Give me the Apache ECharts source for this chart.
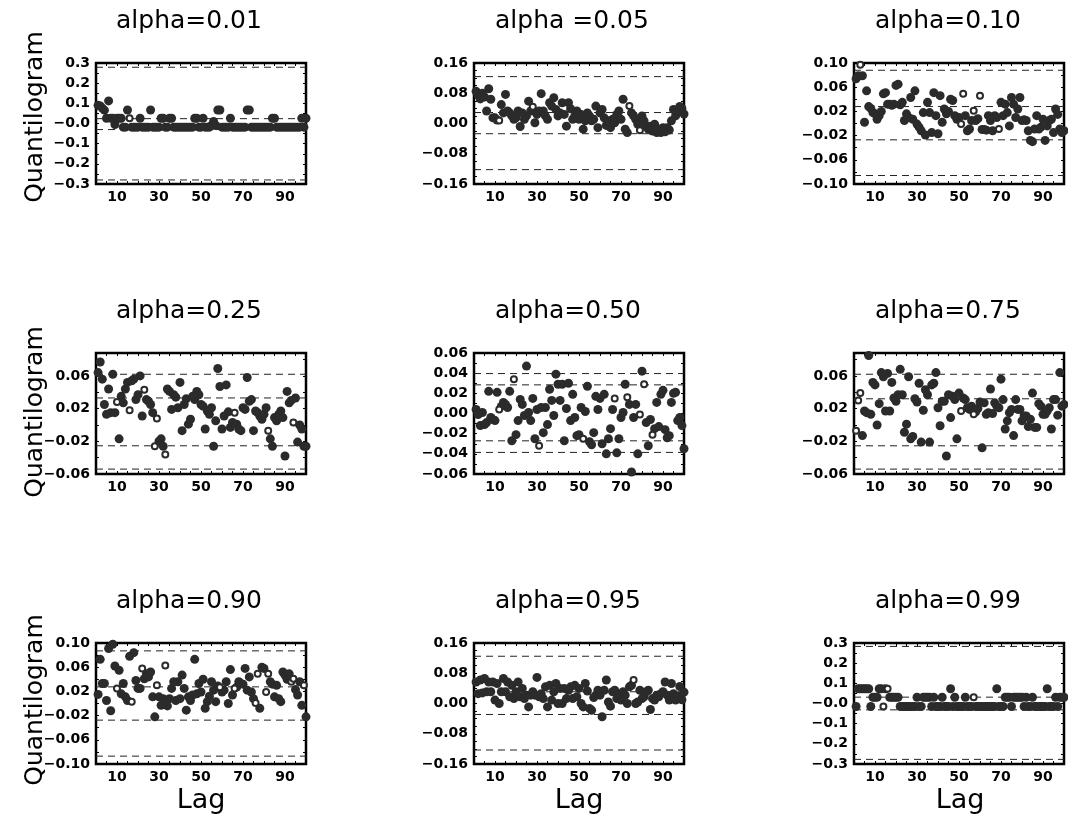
<!DOCTYPE html>
<html><head><meta charset="utf-8">
<script src="https://cdn.jsdelivr.net/npm/echarts@6/dist/echarts.min.js"></script>
<style>html,body{margin:0;padding:0;background:#fff}#c{width:1068px;height:823px}</style>
</head><body><div id="c"></div>
<script>
// ---------- data ----------
const LAG_MIN = 0, LAG_MAX = 100, LAG_TICK = 5;
const X_LABELS = [10, 30, 50, 70, 90];
const TITLES = ['alpha=0.01', 'alpha =0.05', 'alpha=0.10', 'alpha=0.25', 'alpha=0.50', 'alpha=0.75', 'alpha=0.90', 'alpha=0.95', 'alpha=0.99'];

const Q_001 = [0.09,0.087,0.076,0.066,0.026,0.112,0.026,0.026,-0.005,0.026,
 0.026,0.026,-0.018,-0.018,0.067,0.026,-0.018,-0.018,-0.018,-0.018,
 0.026,-0.018,-0.018,-0.018,-0.018,0.067,-0.018,-0.018,-0.018,-0.018,
 0.026,0.026,-0.018,-0.018,0.026,0.026,-0.018,-0.018,-0.018,-0.018,
 -0.018,-0.018,-0.018,-0.018,-0.018,-0.018,0.026,0.026,-0.018,-0.018,
 0.026,-0.018,-0.018,-0.018,-0.01,0.01,-0.01,0.067,0.067,-0.018,
 -0.018,-0.018,-0.018,0.026,-0.018,-0.018,-0.018,-0.018,-0.018,-0.018,
 -0.018,0.067,0.067,-0.018,-0.018,-0.018,-0.018,-0.018,-0.018,-0.018,
 -0.018,-0.018,-0.018,0.026,0.026,-0.018,-0.018,-0.018,-0.018,-0.018,
 -0.018,-0.018,-0.018,-0.018,-0.018,-0.018,-0.018,0.026,-0.018,0.026];
const OPEN_001 = [16];
const BANDS_001 = [0.279, 0.024, -0.03, -0.28];

const Q_005 = [0.085,0.075,0.065,0.08,0.07,0.033,0.092,0.064,0.015,0.015,
 0.009,0.008,0.05,0.028,0.077,0.033,0.028,0.02,0.011,0.015,
 0.033,-0.008,0.028,0.011,0.02,0.059,0.033,0.044,0.002,0.024,
 0.033,0.079,0.033,0.02,0.011,0.055,0.046,0.068,0.037,0.02,
 0.028,0.055,0.024,-0.007,0.055,0.039,0.011,0.02,0.033,0.011,
 0.024,-0.015,0.007,0.028,0.02,0.007,0.011,0.046,-0.011,0.028,
 0.037,0.015,-0.005,0.007,-0.011,0.011,0.002,0.024,0.033,0.011,
 0.064,-0.015,-0.024,0.046,0.028,0.02,0.011,-0.002,-0.018,0.02,
 0.007,-0.007,-0.015,-0.007,-0.02,-0.002,-0.024,-0.015,-0.024,-0.011,
 -0.022,-0.011,-0.017,0.007,0.037,0.02,0.03,0.045,0.04,0.025];
const OPEN_005 = [12, 28, 74, 79];
const BANDS_005 = [0.124, 0.029, -0.027, -0.122];

const Q_010 = [0.074,0.079,0.097,0.079,0.002,0.054,0.028,0.025,0.018,0.016,
 0.007,0.013,0.02,0.049,0.051,0.032,0.032,0.03,0.032,0.063,
 0.065,0.031,0.035,0.005,0.016,0.01,0.043,0.007,0.054,-0.001,
 -0.006,-0.012,0.018,-0.019,0.035,0.018,-0.015,0.051,0.013,-0.017,
 0.046,0.002,0.024,0.016,0.02,0.04,0.038,0.013,0.007,0.01,
 -0.001,0.049,0.013,-0.012,-0.009,0.005,0.021,0.005,0.008,0.046,
 -0.01,-0.01,-0.011,0.013,0.005,-0.012,0.013,0.01,-0.009,0.035,
 0.013,0.032,0.018,-0.004,0.043,0.032,0.01,0.024,0.043,0.005,
 0.006,0.005,-0.012,-0.028,-0.03,-0.009,0.013,-0.009,-0.006,0.007,
 -0.028,-0.004,0.005,0.007,-0.015,0.024,0.015,-0.009,-0.015,-0.012];
const OPEN_010 = [3, 51, 52, 57, 60, 69];
const BANDS_010 = [0.088, 0.028, -0.027, -0.086];

const Q_025 = [0.064,0.077,0.056,0.025,0.013,0.044,0.015,0.062,0.015,0.028,
 -0.017,0.035,0.027,0.044,0.052,0.018,0.054,0.056,0.031,0.037,
 0.06,0.011,0.043,0.031,0.029,0.025,0.015,-0.026,0.008,-0.02,
 -0.017,-0.026,-0.036,0.044,0.041,0.019,0.037,0.034,0.021,0.052,
 -0.007,0.025,0.032,0.001,0.007,0.035,0.031,0.041,0.037,0.025,
 0.023,-0.005,0.017,0.013,0.021,-0.026,0.005,0.069,0.047,-0.005,
 0.011,0.049,0.016,-0.003,0.003,0.015,0.001,-0.005,-0.007,0.021,
 0.019,0.058,0.029,0.031,-0.007,0.017,0.015,0.011,0.007,0.013,
 0.021,-0.007,-0.017,-0.026,0.009,0.005,0.013,0.017,0.009,-0.038,
 0.041,0.027,0.03,0.003,0.033,-0.021,0.0,-0.005,-0.026,-0.026];
const OPEN_025 = [10, 16, 23, 28, 29, 33, 66, 82, 94];
const BANDS_025 = [0.062, 0.033, -0.0255, -0.054];

const Q_050 = [0.004,-0.001,-0.012,0.001,-0.011,-0.009,0.022,-0.004,-0.006,-0.007,
 0.021,0.004,0.007,0.011,0.009,0.006,0.022,-0.027,0.034,-0.021,
 -0.007,0.014,0.009,-0.002,0.047,0.001,-0.007,0.015,-0.025,0.004,
 -0.032,0.006,-0.019,0.006,-0.011,0.024,0.013,-0.002,0.039,0.029,
 0.013,0.029,-0.027,0.005,0.03,-0.007,0.019,-0.004,-0.022,-0.021,
 0.006,-0.025,0.002,0.027,-0.028,-0.031,-0.019,0.017,0.004,0.015,
 -0.03,0.019,-0.04,-0.025,-0.015,0.004,0.015,-0.039,-0.025,-0.004,
 0.001,0.029,0.016,0.009,-0.058,-0.004,0.009,-0.04,-0.001,0.042,
 0.029,-0.009,-0.032,-0.006,-0.021,-0.015,0.011,-0.013,0.019,0.023,
 -0.016,-0.024,-0.022,0.011,0.02,0.021,-0.007,-0.004,-0.012,-0.035];
const OPEN_050 = [12, 19, 31, 52, 67, 73, 79, 81, 85];
const BANDS_050 = [0.0396, 0.0284, -0.0271, -0.0386];

const Q_075 = [-0.007,0.03,0.039,-0.013,0.017,0.015,0.085,0.013,0.052,0.049,
 0.0,0.026,0.064,0.059,0.017,0.063,0.017,0.052,0.033,0.029,
 0.037,0.068,0.037,-0.009,0.001,0.059,-0.017,-0.014,0.032,0.028,
 0.051,-0.021,0.018,0.043,0.037,-0.021,0.049,0.051,0.064,0.021,
 -0.001,0.029,0.029,-0.038,0.037,0.009,0.035,0.031,-0.017,0.039,
 0.017,0.033,0.031,0.021,0.019,0.023,0.013,0.016,0.02,0.028,
 -0.028,0.027,0.013,0.015,0.044,0.014,0.027,0.023,0.021,0.056,
 0.031,-0.005,0.005,0.015,0.019,-0.013,0.031,0.019,0.019,0.005,
 0.011,0.011,-0.002,0.007,0.039,-0.003,-0.003,0.026,0.023,0.013,
 0.013,0.017,0.021,-0.005,0.031,0.031,0.012,0.064,0.023,0.025];
const OPEN_075 = [1, 2, 3, 51, 57];
const BANDS_075 = [0.062, 0.032, -0.0255, -0.054];

const Q_090 = [0.015,0.073,0.033,0.033,0.005,0.091,-0.012,0.098,0.062,0.025,
 0.055,0.016,0.033,0.011,0.005,0.078,0.003,0.084,0.038,0.025,
 0.025,0.058,0.041,0.049,0.044,0.052,0.011,-0.022,0.03,0.011,
 -0.003,0.008,0.063,-0.004,0.008,0.025,0.036,0.005,0.036,0.008,
 0.047,0.025,-0.011,0.011,0.005,0.014,0.073,0.016,0.033,0.019,
 0.04,-0.008,0.003,0.012,0.036,0.022,0.003,0.029,0.027,0.019,
 0.022,0.036,0.0,0.056,0.014,0.025,0.027,0.036,0.033,0.032,
 0.058,0.022,0.044,0.019,0.008,0.001,0.049,-0.008,0.06,0.058,
 0.019,0.049,0.036,0.032,0.011,0.03,0.008,0.003,0.052,0.047,
 0.04,0.049,0.036,0.041,0.023,0.014,0.036,-0.003,0.03,-0.022];
const OPEN_090 = [10, 17, 22, 29, 33, 59, 66, 76, 77, 81, 82, 93, 94, 99];
const BANDS_090 = [0.087, 0.0275, -0.0275, -0.087];

const Q_095 = [0.057,0.026,0.062,0.028,0.066,0.031,0.057,0.031,0.057,0.009,
 0.053,0.0,0.031,0.066,0.031,0.057,0.018,0.048,0.013,0.031,
 0.057,0.018,0.04,0.013,0.022,-0.009,0.022,0.031,0.022,0.069,
 0.018,0.026,0.013,0.044,-0.009,0.048,0.009,0.031,0.053,0.0,
 0.04,0.0,0.04,0.013,0.035,0.044,0.013,0.048,0.018,0.04,
 0.0,-0.009,0.053,0.033,-0.013,-0.018,0.016,0.022,0.035,0.022,
 -0.035,0.035,0.062,0.004,-0.007,0.031,0.035,0.013,0.022,0.009,
 0.031,0.022,0.0,0.044,0.048,0.062,0.0,0.004,0.035,0.013,
 0.018,0.031,0.035,-0.016,0.013,0.009,0.022,0.018,0.026,0.031,
 0.057,0.022,0.009,0.053,0.026,0.009,0.02,0.045,0.01,0.03];
const OPEN_095 = [76];
const BANDS_095 = [0.125, 0.031, -0.029, -0.123];

const Q_099 = [-0.015,0.073,0.073,0.073,0.073,0.073,0.073,-0.015,0.031,0.031,
 0.031,0.073,0.073,-0.015,0.073,0.073,0.031,0.031,0.031,0.031,
 0.031,-0.015,-0.015,-0.015,-0.015,-0.015,-0.015,-0.015,-0.015,0.031,
 -0.015,-0.015,0.031,0.031,0.031,0.031,-0.015,0.031,-0.015,-0.015,
 -0.015,0.031,-0.015,-0.015,-0.015,0.073,-0.015,0.031,-0.015,-0.015,
 -0.015,-0.015,0.031,-0.015,-0.015,-0.015,0.031,-0.015,-0.015,-0.015,
 -0.015,-0.015,-0.015,-0.015,-0.015,-0.015,-0.015,0.073,-0.015,-0.015,
 -0.015,0.031,0.031,0.031,-0.015,0.031,0.031,0.031,0.031,0.031,
 -0.015,0.031,-0.015,-0.015,0.031,-0.015,-0.015,-0.015,-0.015,-0.015,
 -0.015,0.073,-0.015,-0.015,-0.015,0.031,-0.015,0.031,0.031,0.031];
const OPEN_099 = [14, 16, 57];
const BANDS_099 = [0.283, 0.0315, -0.0315, -0.277];

// y-axis ranges, tick steps and labels
const Y_MIN = [-0.3, -0.16, -0.1, -0.06, -0.06, -0.06, -0.1, -0.16, -0.3];
const Y_MAX = [0.3, 0.16, 0.1, 0.088, 0.06, 0.088, 0.1, 0.16, 0.3];
const Y_TICK = [0.05, 0.02, 0.02, 0.02, 0.01, 0.02, 0.02, 0.02, 0.05];
const Y_LABELS_A = [-0.3, -0.2, -0.1, 0, 0.1, 0.2, 0.3];
const Y_LABELS_B = [-0.16, -0.08, 0, 0.08, 0.16];
const Y_LABELS_C = [-0.10, -0.06, -0.02, 0.02, 0.06, 0.10];
const Y_LABELS_D = [-0.06, -0.02, 0.02, 0.06];
const Y_LABELS_E = [-0.06, -0.04, -0.02, 0, 0.02, 0.04, 0.06];
const Y_LABELS = [Y_LABELS_A, Y_LABELS_B, Y_LABELS_C, Y_LABELS_D, Y_LABELS_E, Y_LABELS_D, Y_LABELS_C, Y_LABELS_B, Y_LABELS_A];
const Y_DEC = [1, 2, 2, 2, 2, 2, 2, 2, 1];

const SERIES_VALUES = [Q_001, Q_005, Q_010, Q_025, Q_050, Q_075, Q_090, Q_095, Q_099];
const OPEN_LAGS = [OPEN_001, OPEN_005, OPEN_010, OPEN_025, OPEN_050, OPEN_075, OPEN_090, OPEN_095, OPEN_099];
const BANDS = [BANDS_001, BANDS_005, BANDS_010, BANDS_025, BANDS_050, BANDS_075, BANDS_090, BANDS_095, BANDS_099];

// ---------- layout / style ----------
const COL_LEFT = [96, 474, 854];
const ROW_TOP = [63, 353, 643];
const GRID_W = 210, GRID_H = 121;
const TITLE_X = [116, 495, 875];
const TITLE_Y = [21, 311, 601];
const YNAME_Y = [117, 412, 700];
const LAG_X = [201, 579, 960];
const DOT = '#2b2b2b';
const FONT = '"DejaVu Sans", sans-serif';

const chart = echarts.init(document.getElementById('c'), null, {renderer: 'canvas'});

const grids = [], xAxes = [], yAxes = [], series = [], graphics = [];

const tickCommon = {inside: true, length: 3, lineStyle: {color: '#000', width: 1}};
const labelCommon = {color: '#000', fontSize: 14, fontWeight: 'bold', fontFamily: FONT};

function fmtY(i) {
  return function (v) {
    const hit = Y_LABELS[i].find(l => Math.abs(l - v) < 1e-9);
    if (hit === undefined) return '';
    let s = Math.abs(hit).toFixed(Y_DEC[i]);
    if (hit < 0 || (Math.abs(hit) < 1e-12 && Y_DEC[i] === 1)) s = '\u2212' + s;
    return s;
  };
}
function fmtX(v) {
  return X_LABELS.some(l => Math.abs(l - v) < 1e-9) ? String(v) : '';
}

for (let i = 0; i < 9; i++) {
  const r = Math.floor(i / 3), c = i % 3;
  grids.push({left: COL_LEFT[c], top: ROW_TOP[r], width: GRID_W, height: GRID_H,
    show: true, borderColor: '#000', borderWidth: 2.5, backgroundColor: 'transparent'});
  const xBase = {gridIndex: i, type: 'value', min: LAG_MIN, max: LAG_MAX, interval: LAG_TICK,
    axisLine: {show: false, onZero: false}, splitLine: {show: false}, axisTick: tickCommon};
  xAxes.push(Object.assign({}, xBase, {position: 'bottom',
    axisLabel: Object.assign({}, labelCommon, {margin: 6, formatter: fmtX})}));
  xAxes.push(Object.assign({}, xBase, {position: 'top', axisLabel: {show: false}}));
  const yBase = {gridIndex: i, type: 'value', min: Y_MIN[i], max: Y_MAX[i], interval: Y_TICK[i],
    axisLine: {show: false, onZero: false}, splitLine: {show: false}, axisTick: tickCommon};
  yAxes.push(Object.assign({}, yBase, {position: 'left',
    axisLabel: Object.assign({}, labelCommon, {margin: 6, formatter: fmtY(i)})}));
  yAxes.push(Object.assign({}, yBase, {position: 'right', axisLabel: {show: false}}));

  const xi = 2 * i, yi = 2 * i;
  BANDS[i].forEach(b => {
    series.push({type: 'line', xAxisIndex: xi, yAxisIndex: yi, silent: true, z: 1,
      showSymbol: false, symbol: 'none', animation: false,
      lineStyle: {type: [7, 5], color: '#222', width: 1},
      data: [[LAG_MIN, b], [LAG_MAX, b]]});
  });
  const vals = SERIES_VALUES[i], open = OPEN_LAGS[i];
  const filled = [], hollow = [];
  vals.forEach((v, k) => {
    const lag = k + 1;
    (open.indexOf(lag) >= 0 ? hollow : filled).push([lag, v]);
  });
  series.push({type: 'scatter', xAxisIndex: xi, yAxisIndex: yi, z: 3, animation: false,
    symbol: 'circle', symbolSize: 9, itemStyle: {color: DOT, opacity: 1}, data: filled});
  series.push({type: 'scatter', xAxisIndex: xi, yAxisIndex: yi, z: 4, animation: false,
    symbol: 'circle', symbolSize: 6, itemStyle: {color: '#fff', borderColor: DOT, borderWidth: 2, opacity: 1}, data: hollow});

  graphics.push({type: 'text', x: TITLE_X[c], y: TITLE_Y[r], silent: true,
    style: {text: TITLES[i], font: '25px ' + FONT, fill: '#000', align: 'left', verticalAlign: 'middle'}});
}
for (let r = 0; r < 3; r++) {
  graphics.push({type: 'text', x: 35, y: YNAME_Y[r], rotation: Math.PI / 2, silent: true,
    style: {text: 'Quantilogram', font: '25px ' + FONT, fill: '#000', align: 'center', verticalAlign: 'middle'}});
}
for (let c = 0; c < 3; c++) {
  graphics.push({type: 'text', x: LAG_X[c], y: 801, silent: true,
    style: {text: 'Lag', font: '27px ' + FONT, fill: '#000', align: 'center', verticalAlign: 'middle'}});
}

chart.setOption({
  animation: false,
  backgroundColor: '#fff',
  grid: grids, xAxis: xAxes, yAxis: yAxes, series: series, graphic: graphics
});
</script></body></html>
